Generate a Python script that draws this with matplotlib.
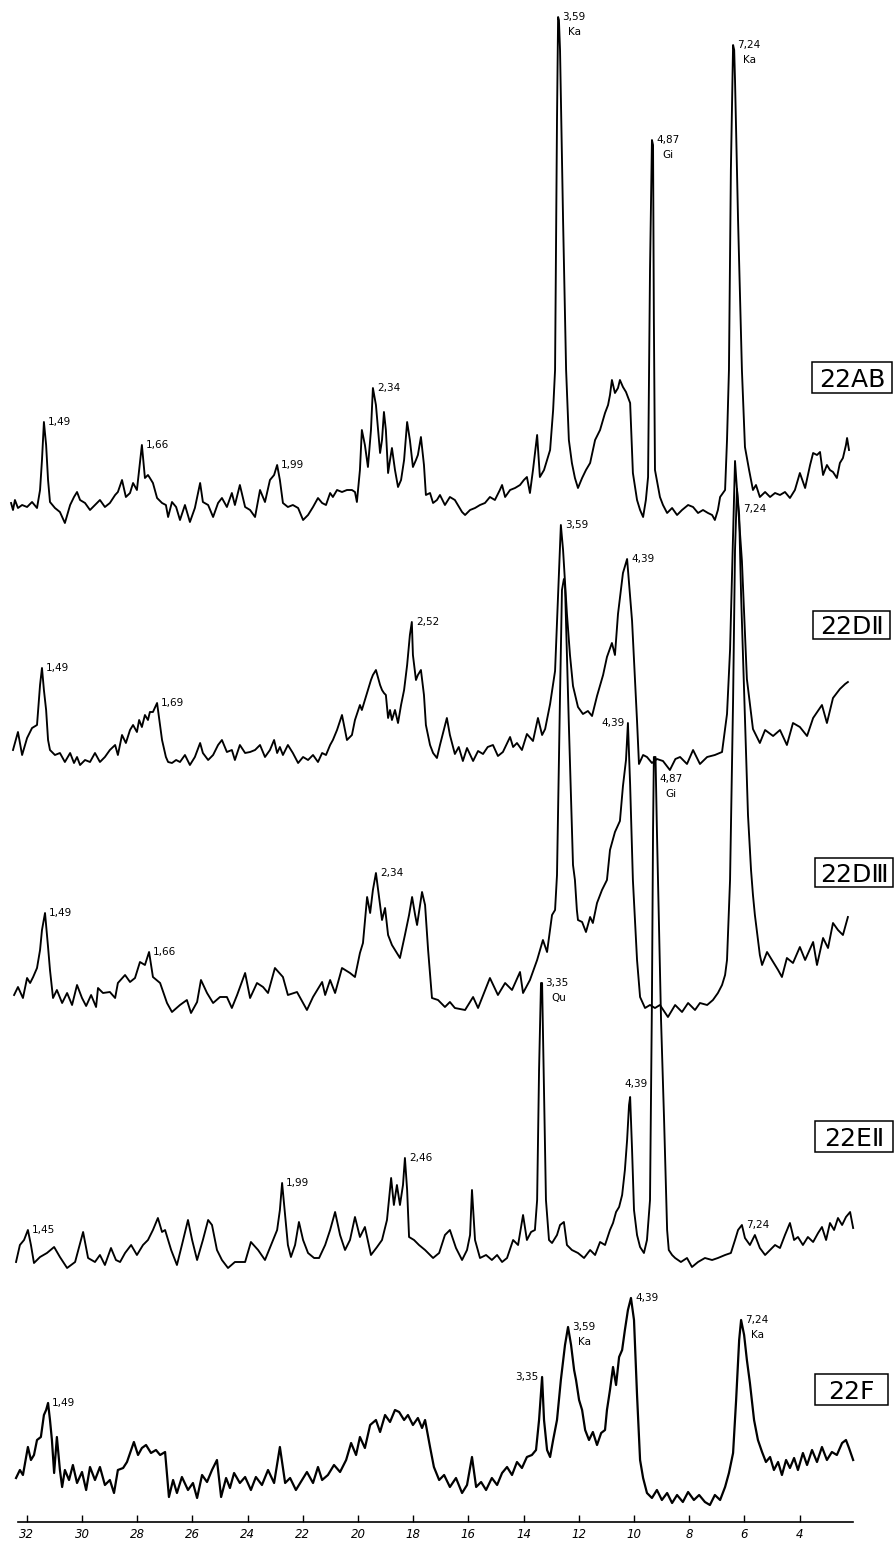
import matplotlib
matplotlib.use("Agg")
import matplotlib.pyplot as plt
from matplotlib.patches import Rectangle

plt.rcParams['font.family'] = ['DejaVu Sans']

# ---------------- data (theta in degrees, intensity in chart units above each trace's base) ----------------
tick_values = [32, 30, 28, 26, 24, 22, 20, 18, 16, 14, 12, 10, 8, 6, 4]
tick_labels = [str(v) for v in tick_values]

sample_names = ['22AB', '22DⅡ', '22DⅢ', '22EⅡ', '22F']

trace_22AB = [(32.57,17),(32.50,10),(32.43,20),(32.32,12),(32.17,15),(31.99,13),(31.81,18),(31.63,12),(31.52,30),(31.45,60),
 (31.38,98),(31.30,75),(31.23,40),(31.16,18),(30.98,12),(30.80,8),(30.62,-3),(30.43,15),(30.29,23),(30.18,28),(30.07,20),
 (29.89,17),(29.71,10),(29.53,15),(29.35,20),(29.17,13),(28.99,17),(28.80,25),(28.70,28),(28.55,40),(28.41,23),(28.26,27),
 (28.15,37),(28.01,30),(27.93,50),(27.83,75),(27.72,42),(27.61,45),(27.54,42),(27.43,37),(27.28,22),(27.10,17),(26.96,15),
 (26.88,3),(26.74,18),(26.59,13),(26.45,0),(26.27,15),(26.09,-2),(25.91,12),(25.72,37),(25.62,18),(25.43,15),(25.25,3),
 (25.07,17),(24.93,22),(24.75,13),(24.57,27),(24.46,15),(24.28,35),(24.09,13),(23.91,10),(23.73,3),(23.55,30),(23.37,18),
 (23.19,40),(23.04,45),(22.93,55),(22.83,40),(22.72,17),(22.54,13),(22.36,15),(22.17,12),(21.99,0),(21.81,5),(21.63,13),
 (21.45,22),(21.30,17),(21.16,15),(21.01,27),(20.91,23),(20.76,30),(20.58,28),(20.40,30),(20.22,30),(20.11,28),(20.04,18),
 (19.93,50),(19.86,90),(19.75,75),(19.64,53),(19.53,90),(19.46,132),(19.35,115),(19.20,67),(19.13,80),(19.06,108),(18.99,90),
 (18.91,47),(18.84,60),(18.77,72),(18.66,50),(18.55,33),(18.44,40),(18.33,60),(18.22,98),(18.12,80),(18.01,53),(17.90,60),
 (17.83,65),(17.72,83),(17.61,55),(17.54,25),(17.39,27),(17.28,17),(17.14,20),(17.03,25),(16.85,15),(16.67,23),(16.49,20),
 (16.38,15),(16.23,8),(16.12,5),(15.94,10),(15.76,12),(15.58,15),(15.40,17),(15.22,23),(15.04,20),(14.86,30),(14.78,35),
 (14.67,23),(14.49,30),(14.31,32),(14.13,35),(13.99,40),(13.88,43),(13.77,27),(13.66,50),(13.51,85),(13.41,43),(13.26,50),
 (13.15,60),(13.04,70),(12.93,110),(12.86,150),(12.79,400),(12.75,503),(12.72,500),(12.68,470),(12.57,300),(12.46,150),
 (12.36,80),(12.25,57),(12.14,42),(12.03,32),(11.88,42),(11.74,50),(11.59,57),(11.41,80),(11.23,90),(11.05,107),(10.94,115),
 (10.87,125),(10.80,140),(10.69,127),(10.58,132),(10.51,140),(10.40,133),(10.29,128),(10.14,117),(10.04,47),(9.89,20),
 (9.78,10),(9.67,3),(9.57,20),(9.49,43),(9.42,250),(9.35,380),(9.31,375),(9.28,200),(9.24,50),(9.06,23),(8.95,15),(8.80,7),
 (8.62,12),(8.44,5),(8.26,10),(8.04,15),(7.86,13),(7.68,7),(7.50,10),(7.32,7),(7.17,5),(7.07,0),(6.96,10),(6.88,23),(6.70,30),
 (6.63,80),(6.56,150),(6.49,350),(6.41,475),(6.37,470),(6.34,440),(6.23,300),(6.09,150),(5.98,73),(5.83,50),(5.69,30),
 (5.58,35),(5.44,23),(5.25,28),(5.07,23),(4.89,27),(4.71,25),(4.53,28),(4.35,22),(4.17,30),(3.99,47),(3.80,32),(3.62,55),
 (3.51,67),(3.37,65),(3.26,68),(3.15,45),(3.01,55),(2.90,50),(2.79,48),(2.65,42),(2.54,57),(2.43,62),(2.32,75),(2.28,82),
 (2.21,70)]

trace_22DII = [(32.50,15),(32.32,33),(32.17,10),(31.99,27),(31.81,37),(31.63,40),(31.52,80),(31.45,97),(31.38,75),(31.30,55),
 (31.23,25),(31.16,15),(30.98,10),(30.80,12),(30.62,3),(30.43,12),(30.29,2),(30.18,8),(30.07,0),(29.89,5),(29.71,3),(29.53,12),
 (29.35,3),(29.17,8),(28.99,15),(28.80,20),(28.70,10),(28.55,30),(28.41,22),(28.26,35),(28.15,40),(28.01,33),(27.93,45),
 (27.83,38),(27.72,50),(27.61,45),(27.54,53),(27.43,53),(27.28,62),(27.10,25),(26.96,8),(26.88,3),(26.74,2),(26.59,5),
 (26.45,3),(26.27,10),(26.09,0),(25.91,8),(25.72,22),(25.62,12),(25.43,5),(25.25,10),(25.07,20),(24.93,25),(24.75,13),
 (24.57,15),(24.46,5),(24.28,20),(24.09,12),(23.91,13),(23.73,15),(23.55,20),(23.37,8),(23.19,15),(23.04,25),(22.93,12),
 (22.83,18),(22.72,10),(22.54,20),(22.36,12),(22.17,2),(21.99,8),(21.81,5),(21.63,10),(21.45,3),(21.30,12),(21.16,10),
 (21.01,20),(20.91,25),(20.76,35),(20.58,50),(20.40,25),(20.22,30),(20.11,45),(19.93,60),(19.86,55),(19.75,65),(19.64,75),
 (19.53,85),(19.46,90),(19.35,95),(19.20,80),(19.13,75),(19.06,72),(18.99,70),(18.91,47),(18.84,55),(18.77,45),(18.66,55),
 (18.55,42),(18.44,60),(18.33,75),(18.22,100),(18.12,130),(18.05,143),(18.01,110),(17.90,85),(17.83,90),(17.72,95),(17.61,70),
 (17.54,40),(17.39,20),(17.28,12),(17.14,7),(17.03,20),(16.78,47),(16.67,30),(16.49,11),(16.35,18),(16.20,4),(16.05,17),
 (15.83,4),(15.65,14),(15.47,11),(15.30,18),(15.11,20),(14.93,9),(14.75,13),(14.49,28),(14.38,18),(14.24,22),(14.06,15),
 (13.88,31),(13.66,24),(13.48,47),(13.33,30),(13.22,36),(13.04,61),(12.86,94),(12.75,170),(12.65,240),(12.57,215),(12.43,151),
 (12.32,110),(12.21,79),(12.03,58),(11.85,51),(11.67,54),(11.52,49),(11.34,69),(11.12,90),(10.98,108),(10.80,122),(10.69,110),
 (10.58,151),(10.40,192),(10.25,206),(10.07,144),(9.89,44),(9.82,1),(9.67,10),(9.53,8),(9.35,2),(9.17,6),(8.95,4),(8.70,-5),
 (8.50,6),(8.33,8),(8.08,1),(7.86,15),(7.61,1),(7.35,8),(7.07,10),(6.81,13),(6.63,51),(6.52,115),(6.41,230),(6.34,304),
 (6.23,260),(6.09,204),(5.91,86),(5.69,36),(5.44,22),(5.25,35),(4.96,29),(4.71,35),(4.46,20),(4.24,42),(3.99,38),(3.73,29),
 (3.51,47),(3.19,60),(3.01,42),(2.79,67),(2.54,76),(2.35,81),(2.25,83)]

trace_22DIII = [(32.46,20),(32.32,28),(32.14,17),(31.99,37),(31.88,32),(31.77,38),(31.63,47),(31.52,65),(31.45,85),(31.34,102),
 (31.23,68),(31.16,45),(31.05,17),(30.91,25),(30.72,12),(30.54,22),(30.36,10),(30.18,30),(30.00,17),(29.85,9),(29.67,20),
 (29.49,8),(29.42,27),(29.24,22),(28.99,23),(28.80,17),(28.70,32),(28.44,40),(28.26,33),(28.08,37),(27.90,53),(27.72,50),
 (27.57,63),(27.43,38),(27.17,32),(26.92,12),(26.74,3),(26.45,10),(26.20,15),(26.05,2),(25.83,13),(25.69,35),(25.47,22),
 (25.25,12),(25.00,18),(24.75,18),(24.57,7),(24.38,20),(24.09,42),(23.91,17),(23.66,32),(23.44,28),(23.26,22),(23.01,47),
 (22.72,38),(22.54,20),(22.21,23),(21.85,5),(21.63,18),(21.30,33),(21.19,20),(21.01,35),(20.83,22),(20.58,47),(20.29,42),
 (20.11,38),(19.93,62),(19.82,72),(19.67,118),(19.56,102),(19.46,125),(19.35,142),(19.20,110),(19.13,95),(19.02,107),
 (18.91,80),(18.77,70),(18.66,65),(18.48,57),(18.30,80),(18.15,100),(18.04,118),(17.93,100),(17.86,90),(17.75,110),
 (17.68,123),(17.57,110),(17.46,65),(17.32,17),(17.10,15),(16.85,8),(16.67,13),(16.49,7),(16.12,5),(15.83,18),(15.65,7),
 (15.22,37),(14.93,20),(14.67,32),(14.42,25),(14.13,43),(14.02,22),(13.77,35),(13.51,55),(13.30,75),(13.15,63),(12.97,100),
 (12.86,105),(12.79,140),(12.68,320),(12.61,425),(12.54,436),(12.50,430),(12.36,290),(12.21,150),(12.14,135),(12.07,105),
 (12.03,95),(11.88,93),(11.74,83),(11.59,98),(11.49,92),(11.34,112),(11.16,125),(10.98,135),(10.87,165),(10.69,183),
 (10.51,194),(10.40,229),(10.29,255),(10.22,292),(10.14,230),(10.04,135),(9.89,55),(9.78,18),(9.60,7),(9.42,10),(9.24,7),
 (9.06,10),(8.77,-2),(8.51,10),(8.26,3),(8.04,12),(7.79,5),(7.61,12),(7.35,10),(7.14,15),(6.96,22),(6.81,30),(6.70,40),
 (6.63,55),(6.52,135),(6.41,315),(6.34,465),(6.27,526),(6.19,500),(6.12,420),(5.98,295),(5.87,200),(5.76,145),(5.69,120),
 (5.62,100),(5.54,82),(5.44,60),(5.36,50),(5.18,63),(4.96,53),(4.78,45),(4.64,38),(4.46,57),(4.24,52),(3.99,68),(3.80,55),
 (3.51,73),(3.37,50),(3.15,77),(2.97,67),(2.79,92),(2.61,85),(2.43,80),(2.25,98)]

trace_22EII = [(32.39,8),(32.25,25),(32.10,30),(31.96,40),(31.85,25),(31.74,7),(31.52,13),(31.27,17),(31.01,23),(30.80,13),
 (30.54,2),(30.25,8),(29.96,38),(29.78,12),(29.53,8),(29.35,15),(29.17,5),(28.95,22),(28.77,10),(28.62,8),(28.44,17),
 (28.22,25),(28.01,15),(27.79,25),(27.61,30),(27.43,40),(27.25,52),(27.10,38),(26.99,40),(26.77,20),(26.56,5),(26.38,25),
 (26.16,50),(26.01,30),(25.83,10),(25.62,30),(25.43,50),(25.29,45),(25.11,20),(24.93,10),(24.71,2),(24.46,8),(24.09,8),
 (23.88,28),(23.62,20),(23.37,10),(23.12,27),(22.93,40),(22.83,60),(22.75,87),(22.64,55),(22.54,25),(22.43,13),(22.28,25),
 (22.14,48),(21.99,30),(21.81,17),(21.59,12),(21.41,12),(21.19,25),(21.01,40),(20.83,58),(20.65,35),(20.47,20),(20.29,30),
 (20.11,53),(19.93,33),(19.75,43),(19.53,15),(19.31,23),(19.13,30),(18.95,50),(18.80,92),(18.70,65),(18.59,85),(18.48,65),
 (18.37,85),(18.30,112),(18.22,80),(18.15,33),(17.97,30),(17.79,25),(17.57,20),(17.28,12),(17.06,17),(16.85,35),(16.67,40),
 (16.45,22),(16.23,10),(16.05,20),(15.94,35),(15.87,80),(15.76,30),(15.58,12),(15.36,15),(15.15,10),(14.96,15),(14.78,8),
 (14.60,12),(14.38,30),(14.20,25),(14.02,55),(13.88,30),(13.73,38),(13.59,40),(13.51,70),(13.44,200),(13.37,287),(13.33,287),
 (13.26,180),(13.19,70),(13.08,30),(12.97,27),(12.79,35),(12.68,45),(12.54,48),(12.43,25),(12.25,20),(12.03,17),(11.81,12),
 (11.59,20),(11.41,15),(11.23,28),(11.05,25),(10.87,40),(10.76,47),(10.65,58),(10.54,63),(10.43,75),(10.33,100),(10.25,130),
 (10.18,165),(10.14,173),(10.07,120),(10.00,60),(9.89,35),(9.78,23),(9.64,17),(9.53,30),(9.42,70),(9.35,270),(9.31,440),
 (9.28,513),(9.22,513),(9.17,440),(9.13,390),(9.02,250),(8.91,150),(8.84,80),(8.80,40),(8.74,20),(8.62,15),(8.51,12),
 (8.30,8),(8.08,12),(7.90,3),(7.68,8),(7.43,12),(7.17,10),(6.96,12),(6.70,15),(6.49,17),(6.34,30),(6.23,40),(6.09,45),
 (5.98,32),(5.80,25),(5.62,35),(5.44,22),(5.25,15),(5.07,20),(4.89,25),(4.71,22),(4.53,35),(4.35,47),(4.20,30),(4.06,33),
 (3.88,25),(3.70,33),(3.51,28),(3.33,37),(3.19,43),(3.04,30),(2.90,47),(2.75,40),(2.61,52),(2.46,45),(2.32,53),(2.17,58),
 (2.06,42)]

trace_22F = [(32.39,27),(32.25,35),(32.14,30),(31.96,58),(31.85,45),(31.74,50),(31.63,65),(31.49,68),(31.38,90),(31.30,95),
 (31.23,102),(31.16,85),(31.09,65),(31.01,32),(30.91,68),(30.80,35),(30.72,18),(30.62,35),(30.47,25),(30.33,40),(30.18,22),
 (30.00,33),(29.85,15),(29.71,38),(29.53,25),(29.35,38),(29.17,20),(28.99,25),(28.84,12),(28.70,35),(28.51,37),(28.37,43),
 (28.22,55),(28.12,63),(27.97,50),(27.83,57),(27.68,60),(27.50,52),(27.32,55),(27.17,50),(26.99,53),(26.85,8),(26.70,25),
 (26.56,12),(26.38,28),(26.16,15),(25.98,22),(25.83,7),(25.65,30),(25.47,23),(25.29,35),(25.11,45),(24.96,8),(24.78,27),
 (24.64,17),(24.49,32),(24.28,22),(24.09,28),(23.88,15),(23.70,28),(23.48,20),(23.26,35),(23.04,22),(22.83,58),(22.64,22),
 (22.46,27),(22.25,15),(22.03,25),(21.85,33),(21.63,22),(21.45,38),(21.30,25),(21.09,30),(20.87,40),(20.65,33),(20.43,45),
 (20.25,62),(20.07,50),(19.93,68),(19.75,57),(19.56,80),(19.35,85),(19.20,73),(19.02,90),(18.84,83),(18.66,95),(18.51,93),
 (18.33,85),(18.19,90),(18.01,80),(17.83,87),(17.68,77),(17.57,85),(17.39,58),(17.25,38),(17.06,25),(16.88,30),(16.67,18),
 (16.45,27),(16.23,12),(16.05,20),(15.87,48),(15.72,18),(15.54,23),(15.36,15),(15.15,27),(14.96,20),(14.78,32),(14.60,38),
 (14.42,30),(14.24,43),(14.06,37),(13.88,48),(13.70,50),(13.55,55),(13.44,85),(13.33,128),(13.26,85),(13.15,55),(13.04,48),
 (12.93,65),(12.79,85),(12.65,125),(12.50,160),(12.39,178),(12.28,160),(12.17,135),(12.10,125),(11.99,105),(11.88,95),
 (11.77,75),(11.63,65),(11.49,73),(11.34,60),(11.19,72),(11.05,75),(10.98,95),(10.87,115),(10.76,138),(10.65,120),
 (10.54,148),(10.43,155),(10.33,175),(10.22,195),(10.11,207),(10.00,185),(9.89,110),(9.78,45),(9.67,27),(9.53,12),(9.35,7),
 (9.17,15),(8.99,5),(8.80,12),(8.62,2),(8.44,10),(8.23,3),(8.04,13),(7.83,5),(7.64,10),(7.43,3),(7.25,0),(7.07,10),(6.88,5),
 (6.70,18),(6.56,32),(6.41,52),(6.30,105),(6.19,165),(6.12,185),(6.01,170),(5.91,145),(5.80,122),(5.65,85),(5.51,65),
 (5.36,53),(5.22,43),(5.07,48),(4.93,35),(4.78,43),(4.64,30),(4.49,45),(4.35,37),(4.20,47),(4.06,35),(3.88,52),(3.73,40),
 (3.55,55),(3.37,43),(3.19,58),(3.01,45),(2.83,53),(2.65,50),(2.46,62),(2.32,65),(2.21,57),(2.06,45)]

traces = [trace_22AB, trace_22DII, trace_22DIII, trace_22EII, trace_22F]

# peak labels per trace: (peak theta, d-spacing text[, mineral])
peaks_22AB = [(31.38, '1,49'), (27.83, '1,66'), (22.93, '1,99'), (19.46, '2,34'),
              (12.75, '3,59', 'Ka'), (9.35, '4,87', 'Gi'), (6.41, '7,24', 'Ka')]
peaks_22DII = [(31.45, '1,49'), (27.28, '1,69'), (18.05, '2,52'), (12.65, '3,59'),
               (10.25, '4,39'), (6.34, '7,24')]
peaks_22DIII = [(31.34, '1,49'), (27.57, '1,66'), (19.35, '2,34'), (10.22, '4,39')]
peaks_22EII = [(31.96, '1,45'), (22.75, '1,99'), (18.30, '2,46'), (13.37, '3,35', 'Qu'),
               (10.14, '4,39'), (9.28, '4,87', 'Gi'), (6.09, '7,24')]
peaks_22F = [(31.23, '1,49'), (13.33, '3,35'), (12.39, '3,59', 'Ka'), (10.11, '4,39'), (6.12, '7,24', 'Ka')]
peak_lists = [peaks_22AB, peaks_22DII, peaks_22DIII, peaks_22EII, peaks_22F]

# ---------------- layout ----------------
W, H = 894, 1547
AXIS_ROW = 1522
base_rows = [520, 765, 1015, 1270, 1505]
boxes = [(812, 362, 80, 31), (813, 611, 77, 28), (815, 858, 78, 29), (815, 1121, 78, 31), (815, 1374, 73, 31)]
# special label offsets (pixels): key (trace, text) -> (dx, dy, ha)
special = {(1, '7,24'): (8, -48, 'left'), (2, '4,39'): (-3, 0, 'right'),
           (3, '4,39'): (6, 13, 'center'), (3, '4,87'): (6, -22, 'left'), (4, '3,35'): (-4, 0, 'right')}

fig = plt.figure(figsize=(W / 100, H / 100), dpi=100)
ax = fig.add_axes([0, (H - AXIS_ROW) / H, 1, AXIS_ROW / H])
ax.set_xlim(32.971, 32.971 - W / 27.6)
ax.set_ylim(0, AXIS_ROW)
for s in ('top', 'left', 'right'):
    ax.spines[s].set_visible(False)
ax.spines['bottom'].set_bounds(2.07, 32.32)
ax.spines['bottom'].set_linewidth(1.2)
ax.set_yticks([])
ax.set_xticks(tick_values)
ax.set_xticklabels(tick_labels, fontstyle='italic', fontsize=8.5)
ax.tick_params(axis='x', direction='in', length=5, width=1, pad=4)
ax.patch.set_alpha(0)

for i, (tr, row) in enumerate(zip(traces, base_rows)):
    base = AXIS_ROW - row
    th = [p[0] for p in tr]
    it = [base + p[1] for p in tr]
    ax.plot(th, it, color='black', lw=1.6 if i == 4 else 1.35, solid_joinstyle='round')
    lookup = dict(tr)
    for pk in peak_lists[i]:
        theta, txt = pk[0], pk[1]
        y = base + lookup[theta]
        dx, dy, ha = special.get((i, txt), (4, 0, 'left'))
        ax.annotate(txt, xy=(theta, y), xytext=(dx, dy), textcoords='offset pixels',
                    ha=ha, va='center', fontsize=7.5)
        if len(pk) > 2:
            ax.annotate(pk[2], xy=(theta, y), xytext=(dx + 6, dy - 15), textcoords='offset pixels',
                        ha='left', va='center', fontsize=7.5)

for name, (bx, by, bw, bh) in zip(sample_names, boxes):
    fig.patches.append(Rectangle((bx / W, 1 - (by + bh) / H), bw / W, bh / H, transform=fig.transFigure,
                                 fill=True, fc='white', ec='black', lw=1.1))
    fig.text((bx + bw / 2) / W, 1 - (by + bh / 2) / H, name, ha='center', va='center_baseline',
             fontsize=18, color='black')

fig.savefig('out.png', dpi=100, facecolor='white')
